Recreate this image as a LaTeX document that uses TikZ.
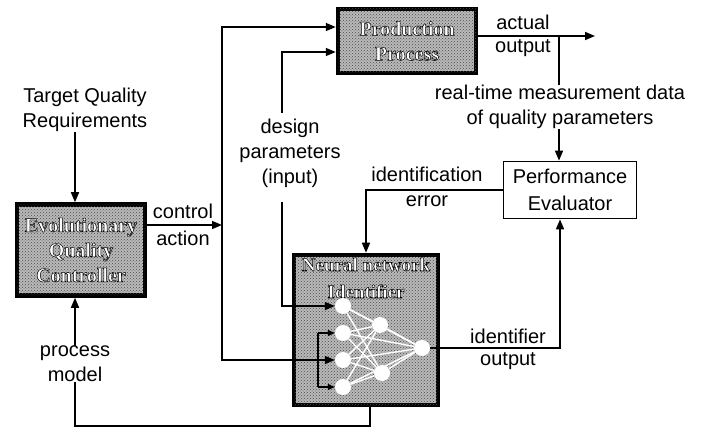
\documentclass[tikz,border=0pt]{standalone}
\usepackage{fontspec}
\setmainfont{Liberation Serif}
\setsansfont{Liberation Sans}
\usetikzlibrary{arrows.meta,patterns}

% white letters with a black outline (text render mode 2)
\newcommand{\boxtxt}[1]{\special{pdf:literal direct 2 Tr 0 G 0.5 w}#1\special{pdf:literal direct 0 Tr}}

\begin{document}
\begin{tikzpicture}[
    x=1pt, y=-1pt,
    lbl/.style={align=center, font=\sffamily\fontsize{20}{25}\selectfont, inner sep=0pt},
    darkblock/.style={draw, line width=4.5pt, fill=gray!55,
        postaction={pattern=crosshatch dots, pattern color=black!70},
        text=white, align=center, inner sep=0pt,
        font=\bfseries\fontsize{20}{25}\selectfont},
    block/.style={draw, line width=1.8pt, fill=white, align=center, inner sep=0pt,
        font=\sffamily\fontsize{20}{27}\selectfont},
    arrow/.style={-{Triangle[length=10pt,width=8pt]}, line width=1.6pt},
    short/.style={-{Triangle[length=7pt,width=6pt]}, line width=1.4pt},
    line/.style={line width=1.6pt},
    neuron/.style={circle, fill=white, minimum size=16pt, inner sep=0pt},
    synapse/.style={white, line width=1.4pt}
]
\useasboundingbox (0,0) rectangle (708,427);

% blocks
\node[darkblock, minimum width=138pt, minimum height=64pt] (prod) at (407,41) {\boxtxt{Production}\\\boxtxt{Process}};
\node[darkblock, minimum width=128pt, minimum height=91pt] (eqc) at (81,250) {\boxtxt{Evolutionary}\\\boxtxt{Quality}\\\boxtxt{Controller}};
\node[darkblock, minimum width=144pt, minimum height=150pt] (nn) at (366,330) {};
\node[block, minimum width=133pt, minimum height=57pt] (perf) at (570,190) {Performance\\Evaluator};
\node[text=white, align=center, inner sep=0pt, font=\bfseries\fontsize{19}{27}\selectfont] (nntitle) at (366,278) {\boxtxt{Neural network}\\\boxtxt{Identifier}};

% network inside the identifier
\foreach \n/\y in {1/306,2/333,3/360,4/387}
    \node[neuron] (in\n) at (343,\y) {};
\node[neuron] (hid1) at (380,325) {};
\node[neuron] (hid2) at (382,373) {};
\node[neuron] (out) at (422,348) {};
\foreach \i in {1,...,4} {
    \foreach \h in {1,2}
        \draw[synapse] (in\i) -- (hid\h);
    \draw[synapse] (in\i) -- (out);
}
\foreach \h in {1,2}
    \draw[synapse] (hid\h) -- (out);

% labels
\node[lbl] (target) at (85,110) {Target Quality\\Requirements};
\node[lbl] (model) at (75,364) {process\\model};
\node[lbl] (ctrl) at (183,225) {control\\[2pt]action};
\node[lbl] (design) at (290,153) {design\\parameters\\(input)};
\node[lbl] (actual) at (523,22) {actual};
\node[lbl] (actout) at (523,48) {output};
\node[lbl] (meas) at (560,107) {real-time measurement data\\of quality parameters};
\node[lbl] (ident) at (427,174) {identification};
\node[lbl] (err) at (427,201) {error};
\node[lbl] (idout) at (508,336) {identifier};
\node[lbl] (idout2) at (508,361) {output};

% connection points
\coordinate (busmid) at (222,225);
\coordinate (dp1) at (282,113);
\coordinate (dp2) at (282,202);
\coordinate (tap) at (559,36);
\coordinate (outend) at (595,36);
\coordinate (base) at (370,426);
\coordinate (brktop) at (318,333);
\coordinate (brkbot) at (318,387);

% connectors
\draw[arrow] (target.south -| model) -- (eqc.north -| model);
\draw[arrow] (model.north) -- (model.north |- eqc.south);
\draw[arrow] (eqc.east |- busmid) -- (busmid);
\draw[arrow] (busmid) |- ([yshift=14pt]prod.west);
\draw[arrow] (busmid) |- (in3);
\draw[line] (brktop) -- (brkbot);
\draw[short] (brktop) -- (in2);
\draw[short] (brkbot) -- (in4);
\draw[arrow] (dp1) |- ([yshift=-11pt]prod.west);
\draw[arrow] (dp2) |- (in1);
\draw[arrow] ([yshift=5pt]prod.east) -- (outend);
\draw[line] (tap) -- (tap |- meas.north);
\draw[arrow] (meas.south -| tap) -- (perf.north -| tap);
\draw[arrow] (perf.west) -| (nn.north);
\draw[arrow] (out) -| ([xshift=-10pt]perf.south);
\draw[line] (base |- nn.south) -- (base) -| (model.south);
\end{tikzpicture}
\end{document}
